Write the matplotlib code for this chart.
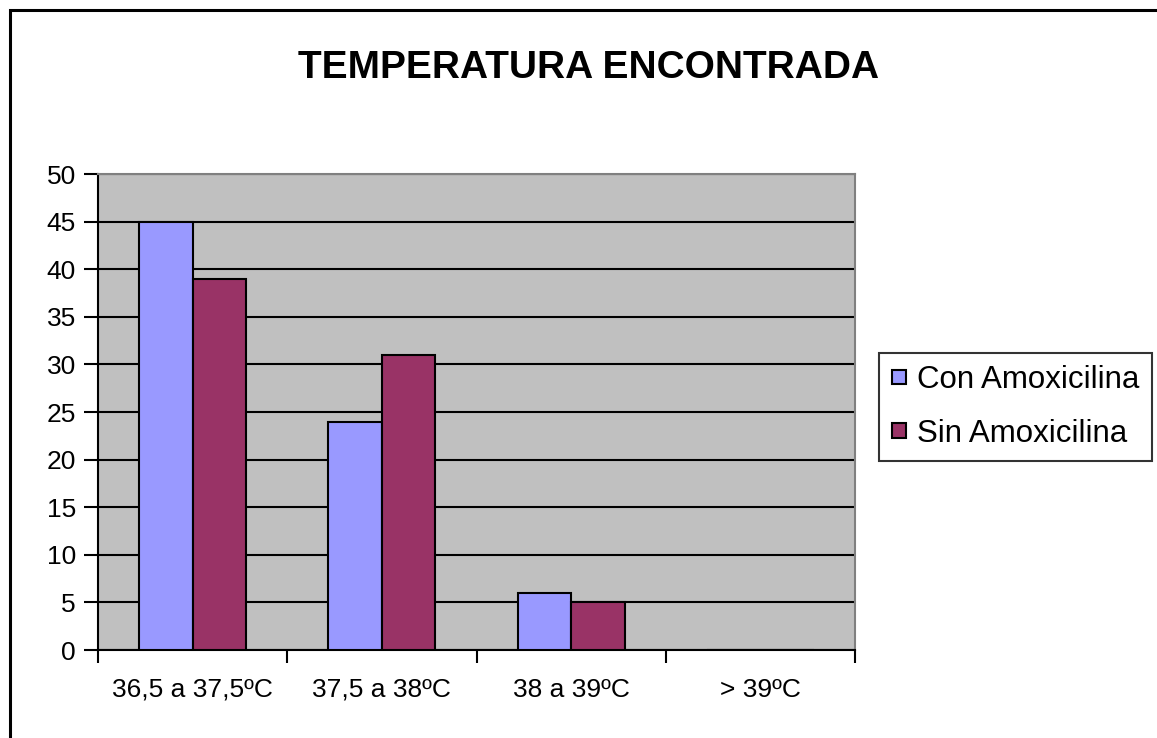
import matplotlib
matplotlib.use("Agg")
import matplotlib.pyplot as plt
from matplotlib.patches import Rectangle

# Data
categories = ["36,5 a 37,5ºC", "37,5 a 38ºC", "38 a 39ºC", "> 39ºC"]
con_amox = [45, 24, 6, 0]
sin_amox = [39, 31, 5, 0]
series_names = ["Con Amoxicilina", "Sin Amoxicilina"]
y_ticks = list(range(0, 55, 5))

plt.rcParams["font.family"] = ["Liberation Sans", "DejaVu Sans"]

fig = plt.figure(figsize=(11.57, 7.38), dpi=100)

# outer chart frame (left and top visible, the rest is cut off)
fig.patches.append(Rectangle((10 / 1157, -0.05), 1.2, (738 - 10) / 738 + 0.05,
                             transform=fig.transFigure, fill=False,
                             edgecolor="black", linewidth=2.2))

ax = fig.add_axes([98 / 1157, 88 / 738, (855 - 98) / 1157, (650 - 174) / 738])
ax.set_facecolor("#C0C0C0")

x = list(range(len(categories)))
bw = 0.283
ax.bar([i - bw / 2 for i in x], con_amox, width=bw, color="#9999FF",
       edgecolor="black", linewidth=1.5, label=series_names[0], zorder=3)
ax.bar([i + bw / 2 for i in x], sin_amox, width=bw, color="#993366",
       edgecolor="black", linewidth=1.5, label=series_names[1], zorder=3)

ax.set_xlim(-0.5, len(categories) - 0.5)
ax.set_ylim(0, 50)
ax.set_yticks(y_ticks)
ax.yaxis.grid(True, color="black", linewidth=1.5, zorder=1)
ax.set_axisbelow(True)

ax.set_xticks([i - 0.5 for i in range(len(categories) + 1)], minor=False)
ax.set_xticklabels([])
ax.set_xticks(x, minor=True)
ax.set_xticklabels(categories, minor=True, fontsize=19)
ax.tick_params(axis="x", which="minor", length=0, pad=20)
ax.tick_params(axis="x", which="major", length=9, width=1.5, direction="out")
ax.tick_params(axis="y", length=10, width=1.5, labelsize=19, pad=6)

for side in ["left", "bottom"]:
    ax.spines[side].set_color("black")
    ax.spines[side].set_linewidth(1.5)
for side in ["right", "top"]:
    ax.spines[side].set_color("#808080")
    ax.spines[side].set_linewidth(1.5)

fig.text(589 / 1157, 1 - 68 / 738, "TEMPERATURA ENCONTRADA", ha="center",
         va="center", fontsize=28, fontweight="bold")

leg = fig.legend(loc="center left", bbox_to_anchor=(879 / 1157, 1 - 407 / 738),
                 fontsize=22.5, frameon=True, fancybox=False, handlelength=0.45,
                 handleheight=0.32, handletextpad=0.38, labelspacing=0.75,
                 borderpad=0.4, borderaxespad=0)
leg.get_frame().set_edgecolor("black")
leg.get_frame().set_linewidth(1.5)

fig.savefig("out.png", dpi=100)
